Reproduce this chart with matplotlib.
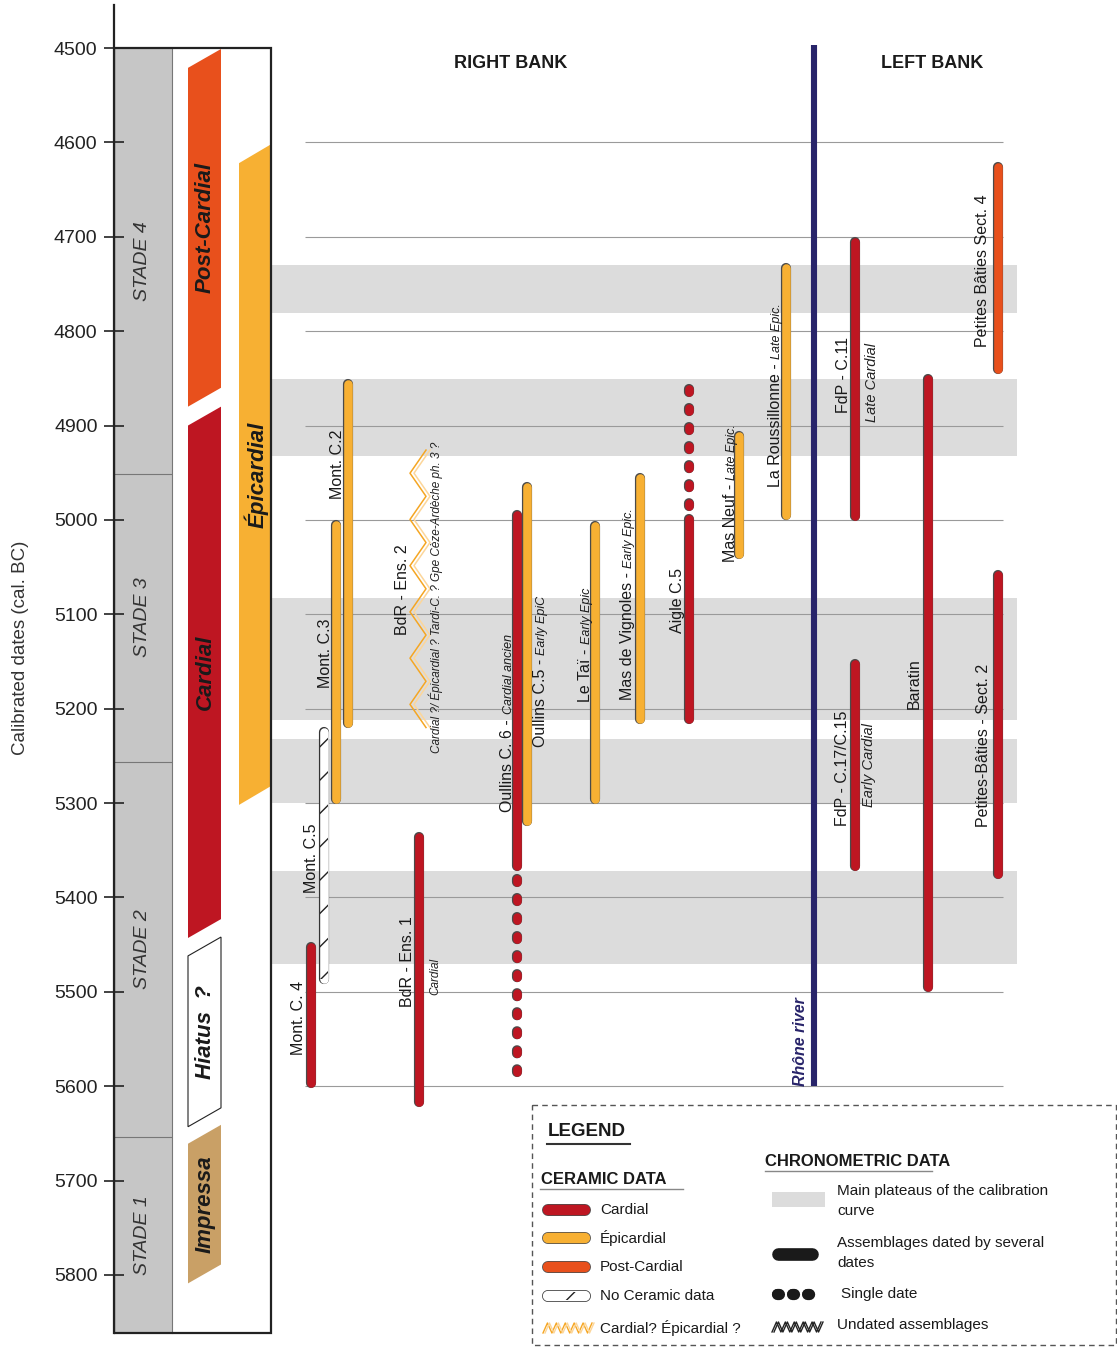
import numpy as np
import matplotlib.pyplot as plt
import matplotlib.patheffects as pe
from matplotlib.patches import Polygon, Rectangle

plt.rcParams['font.family'] = ['Liberation Sans', 'DejaVu Sans']

W, H, DPI = 1117, 1347, 100

# ---------------- data (years cal. BC) ----------------
tick_years = list(range(4500, 5900, 100))

stade_names = ['STADE 4', 'STADE 3', 'STADE 2', 'STADE 1']
stade_bounds = [4500, 4951, 5256, 5654, 5862]

period_names = ['Post-Cardial', 'Cardial', 'Hiatus  ?', 'Impressa', 'Épicardial']
period_start = [4501, 4880, 5442, 5641, 4602]
period_end = [4860, 5423, 5623, 5789, 5282]

plateau_start = [4730, 4851, 5083, 5232, 5372]
plateau_end = [4781, 4932, 5212, 5300, 5471]

sites = ['Mont. C.2', 'Mont. C.3', 'Mont. C.5', 'Mont. C. 4', 'BdR - Ens. 1',
         'BdR - Ens. 2', 'Oullins C. 6', 'Oullins C.5', 'Le Taï', 'Mas de Vignoles',
         'Aigle C.5', 'Mas Neuf', 'La Roussillonne', 'FdP - C.11', 'FdP - C.17/C.15',
         'Baratin', 'Petites Bâties Sect. 4', 'Petites-Bâties - Sect. 2']
culture = ['epi', 'epi', 'none', 'card', 'card', 'undated', 'card', 'epi', 'epi', 'epi',
           'card', 'epi', 'epi', 'card', 'card', 'card', 'post', 'card']
date_top = [4851, 5001, 5220, 5448, 5331, 4926, 4990, 4961, 5002, 4951,
            4995, 4906, 4728, 4701, 5148, 4846, 4622, 5054]
date_bottom = [5220, 5300, 5491, 5601, 5621, 5220, 5371, 5324, 5300, 5215,
               5215, 5041, 4999, 5000, 5371, 5500, 4845, 5380]

# single-date extensions
single_sites = ['Oullins C. 6', 'Aigle C.5']
single_top = [5376, 4857]
single_bottom = [5590, 4990]

rhone_top, rhone_bottom = 4497, 5600

# label texts
label_main = ['Mont. C.2', 'Mont. C.3', 'Mont. C.5', 'Mont. C. 4', 'BdR - Ens. 1',
              'BdR - Ens. 2', 'Oullins C. 6 -', 'Oullins C.5 -', 'Le Taï -',
              'Mas de Vignoles -', 'Aigle C.5', 'Mas Neuf -', 'La Roussillonne -',
              'FdP - C.11', 'FdP - C.17/C.15', 'Baratin', 'Petites Bâties Sect. 4',
              'Petites-Bâties - Sect. 2']
label_sub = [None, None, None, None, None, None, 'Cardial ancien', 'Early EpiC',
             'Early Epic', 'Early Epic.', None, 'Late Epic.', 'Late Epic.',
             None, None, None, None, None]
notes = ['Cardial', 'Cardial ?/ Épicardial ? Tardi-C. ? Gpe Cèze-Ardèche ph. 3 ?',
         'Late Cardial', 'Early Cardial']

# ---------------- layout (pixel columns) ----------------
site_x = [348, 336, 324, 311, 419, 419, 517, 527, 595, 640, 689, 739, 786, 855, 855,
          928, 998, 998]
label_x = [342, 330, 316, 303, 412, 407, 512, 545, 590, 632, 682, 735, 780, 848, 847,
           919, 987, 988]
label_y = [4978, 5178, 5395, 5567, 5516, 5122, 5309, 5241, 5193, 5191, 5120, 5045,
           4965, 4887, 5324, 5200, 4817, 5325]
note_x = [438, 440, 876, 873]
note_y = [5503, 5247, 4896, 5304]
note_fs = [8.5, 8.5, 10.5, 10.5]

colors = {'card': '#BE1622', 'epi': '#F7B033', 'post': '#E8501C'}
period_colors = ['#E8501C', '#BE1622', 'white', '#C9A066', '#F7B033']
period_cols = [(188, 221)] * 4 + [(239, 271)]
navy = '#28246A'
txt = '#1a1a1a'

fig = plt.figure(figsize=(W / DPI, H / DPI), dpi=DPI)
ax = fig.add_axes([114 / W, 0, (W - 114) / W, 1])
ax.set_xlim(114, W)
ylim = (5876.4, 4449.1)
ax.set_ylim(*ylim)
ax.patch.set_visible(False)
ppy = H / (ylim[0] - ylim[1])   # pixels per year

for s in ['top', 'right', 'bottom']:
    ax.spines[s].set_visible(False)
ax.spines['left'].set_bounds(4454, 5862)
ax.spines['left'].set_linewidth(1.6)
ax.spines['left'].set_color('#222')
ax.set_xticks([])
ax.set_yticks(tick_years)
ax.tick_params(axis='y', direction='inout', length=13.7, width=1.2, color='#222',
               labelsize=14, labelcolor='#222', pad=5)
ax.set_ylabel('Calibrated dates (cal. BC)', fontsize=13.5, color='#333')
ax.yaxis.set_label_coords((29 - 114) / (W - 114), (H - 648) / H)

# ---- left panel: stades
ax.add_patch(Rectangle((114, stade_bounds[0]), 58, stade_bounds[-1] - stade_bounds[0],
                       fc='#C6C6C6', ec='none', zorder=1))
ax.plot([172, 172], [stade_bounds[0], stade_bounds[-1]], color='#777', lw=0.8, zorder=2)
ax.hlines(stade_bounds[1:-1], 114, 172, color='#777', lw=0.8, zorder=2)
for i, name in enumerate(stade_names):
    ax.text(143, (stade_bounds[i] + stade_bounds[i + 1]) / 2, name, rotation=90,
            ha='center', va='center', fontsize=14, fontstyle='italic', color='#333', zorder=5)

# ---- left panel: periods
slant = 20
for i, name in enumerate(period_names):
    x0, x1 = period_cols[i]
    s, e = period_start[i], period_end[i]
    poly = Polygon([(x0, s + slant), (x1, s), (x1, e), (x0, e + slant)], closed=True,
                   fc=period_colors[i], ec='#222' if name.startswith('Hiatus') else 'none',
                   lw=0.8, zorder=3)
    ax.add_patch(poly)
    ax.text((x0 + x1) / 2 + 1, (s + e) / 2 + slant / 2, name, rotation=90, ha='center',
            va='center', fontsize=16, fontweight='bold', fontstyle='italic', color=txt, zorder=5)

ax.add_patch(Rectangle((114, stade_bounds[0]), 157, stade_bounds[-1] - stade_bounds[0],
                       fill=False, ec='#222', lw=1.6, zorder=4))

# ---- plateaus + grid
ax.barh([(a + b) / 2 for a, b in zip(plateau_start, plateau_end)],
        width=1017 - 271, left=271,
        height=[b - a for a, b in zip(plateau_start, plateau_end)],
        color='#DCDCDC', zorder=1)
ax.hlines(tick_years[1:12], 305, 1003, color='#9a9a9a', lw=0.8, zorder=2)


def pill(x, y0, y1, color, lw=6.2, ls='-', edge='#4a4a4a', z=4):
    r = lw * DPI / 72 / 2 / ppy
    ax.plot([x, x], [y0 + r, y1 - r], color=color, lw=lw, ls=ls,
            solid_capstyle='round', dash_capstyle='round',
            path_effects=[pe.Stroke(linewidth=lw + 1.1, foreground=edge), pe.Normal()],
            zorder=z)


def zigzag_v(x, y0, y1, amp=16, half=22.5):
    n = max(2, int(round((y1 - y0) * ppy / half)))
    ys = np.linspace(y0, y1, n + 1)
    sgn = np.where(np.arange(n + 1) % 2 == 0, 1, -1)
    ax.plot(x + 3 + sgn * amp / 2, ys, color='#FCD69A', lw=1.1, zorder=4)
    ax.plot(x - 1 + sgn * amp / 2, ys, color='#F5A623', lw=1.1, zorder=4)


for i, site in enumerate(sites):
    x, t, b, c = site_x[i], date_top[i], date_bottom[i], culture[i]
    if c in colors:
        pill(x, t, b, colors[c])
    elif c == 'none':
        pill(x, t, b, 'white', edge='#333')
        r = 6.2 * DPI / 72 / 2 / ppy
        ax.add_patch(Rectangle((x - 4, t + r), 8, (b - r) - (t + r), fill=False,
                               hatch='/', lw=0, ec='#222', zorder=5))
    elif c == 'undated':
        zigzag_v(x, t, b)

for i, site in enumerate(single_sites):
    x = site_x[sites.index(site)]
    pill(x, single_top[i], single_bottom[i], colors['card'], ls=(0, (0.35, 1.86)))

# Rhone river
ax.plot([814, 814], [rhone_top, rhone_bottom], color=navy, lw=4.4, solid_capstyle='butt', zorder=4)
ax.text(805, 5600, 'Rhône river', rotation=90, rotation_mode='anchor', ha='left',
        va='baseline', fontsize=11.5, fontweight='bold', fontstyle='italic', color=navy, zorder=5)

# labels
fig.canvas.draw()
rend = fig.canvas.get_renderer()
inv = ax.transData.inverted()
for i, main in enumerate(label_main):
    t = ax.text(label_x[i], label_y[i], main, rotation=90, rotation_mode='anchor',
                ha='left', va='baseline', fontsize=11.5, color=txt, zorder=5)
    if label_sub[i]:
        bb = t.get_window_extent(rend)
        yend = inv.transform((bb.x0, bb.y1))[1] - 4.5 / ppy
        ax.text(label_x[i], yend, label_sub[i], rotation=90, rotation_mode='anchor',
                ha='left', va='baseline', fontsize=9, fontstyle='italic', color=txt, zorder=5)
for i, note in enumerate(notes):
    ax.text(note_x[i], note_y[i], note, rotation=90, rotation_mode='anchor', ha='left',
            va='baseline', fontsize=note_fs[i], fontstyle='italic', color='#222', zorder=5)

# ---------------- overlay: headers + legend (pixel coords) ----------------
lg = fig.add_axes([0, 0, 1, 1], facecolor='none')
lg.set_xlim(0, W)
lg.set_ylim(H, 0)
lg.axis('off')

lg.text(511, 63, 'RIGHT BANK', ha='center', va='center', fontsize=13, fontweight='bold', color=txt)
lg.text(932, 63, 'LEFT BANK', ha='center', va='center', fontsize=13, fontweight='bold', color=txt)

lg.add_patch(Rectangle((532, 1105), 584, 240, fill=False, ls=(0, (4, 3)), lw=1, ec='#555'))
lg.text(548, 1132, 'LEGEND', va='center', fontsize=13.5, fontweight='bold', color=txt)
lg.plot([547, 630], [1144, 1144], color='#333', lw=1.5)
lg.text(541, 1179, 'CERAMIC DATA', va='center', fontsize=12, fontweight='bold', color=txt)
lg.plot([540, 683], [1189, 1189], color='#888', lw=1)
lg.text(765, 1161, 'CHRONOMETRIC DATA', va='center', fontsize=12, fontweight='bold', color=txt)
lg.plot([765, 932], [1171, 1171], color='#888', lw=1)

cer_labels = ['Cardial', 'Épicardial', 'Post-Cardial', 'No Ceramic data', 'Cardial? Épicardial ?']
cer_y = [1210, 1238, 1267, 1296, 1328]


def hpill(x0, x1, y, color, lw=7.5, edge='#4a4a4a', ls='-'):
    r = lw * DPI / 72 / 2
    lg.plot([x0 + r, x1 - r], [y, y], color=color, lw=lw, ls=ls,
            solid_capstyle='round', dash_capstyle='round',
            path_effects=[pe.Stroke(linewidth=lw + 1.1, foreground=edge), pe.Normal()],
            zorder=2)


for lab, y, c in zip(cer_labels[:3], cer_y[:3], ['card', 'epi', 'post']):
    hpill(543, 590, y, colors[c])
hpill(543, 590, cer_y[3], 'white', edge='#333')
lg.add_patch(Rectangle((552, cer_y[3] - 4), 32, 8, fill=False, hatch='/', lw=0, ec='#222',
                       zorder=3))
zx = np.linspace(543, 592, 12)
zy = np.where(np.arange(12) % 2 == 0, cer_y[4] + 5, cer_y[4] - 5)
lg.plot(zx, zy, color='#F5A623', lw=1)
lg.plot(zx + 2, zy, color='#FCD69A', lw=1)
for lab, y in zip(cer_labels, cer_y):
    lg.text(600, y, lab, va='center', fontsize=11, color=txt)

lg.add_patch(Rectangle((772, 1192), 53, 15, fc='#DCDCDC', ec='none'))
hpill(772, 818, 1254, '#1a1a1a', lw=8, edge='#1a1a1a')
hpill(772, 818, 1294, '#1a1a1a', lw=7, edge='#1a1a1a', ls=(0, (0.2, 1.35)))
lg.plot(zx + 229, zy - 1, color='#222', lw=1)
lg.plot(zx + 231, zy - 1, color='#222', lw=1)
lg.text(837, 1201, 'Main plateaus of the calibration\ncurve', va='center', fontsize=11,
        color=txt, linespacing=1.55)
lg.text(837, 1253, 'Assemblages dated by several\ndates', va='center', fontsize=11,
        color=txt, linespacing=1.55)
lg.text(841, 1294, 'Single date', va='center', fontsize=11, color=txt)
lg.text(837, 1325, 'Undated assemblages', va='center', fontsize=11, color=txt)

fig.savefig('out.png', dpi=DPI)
